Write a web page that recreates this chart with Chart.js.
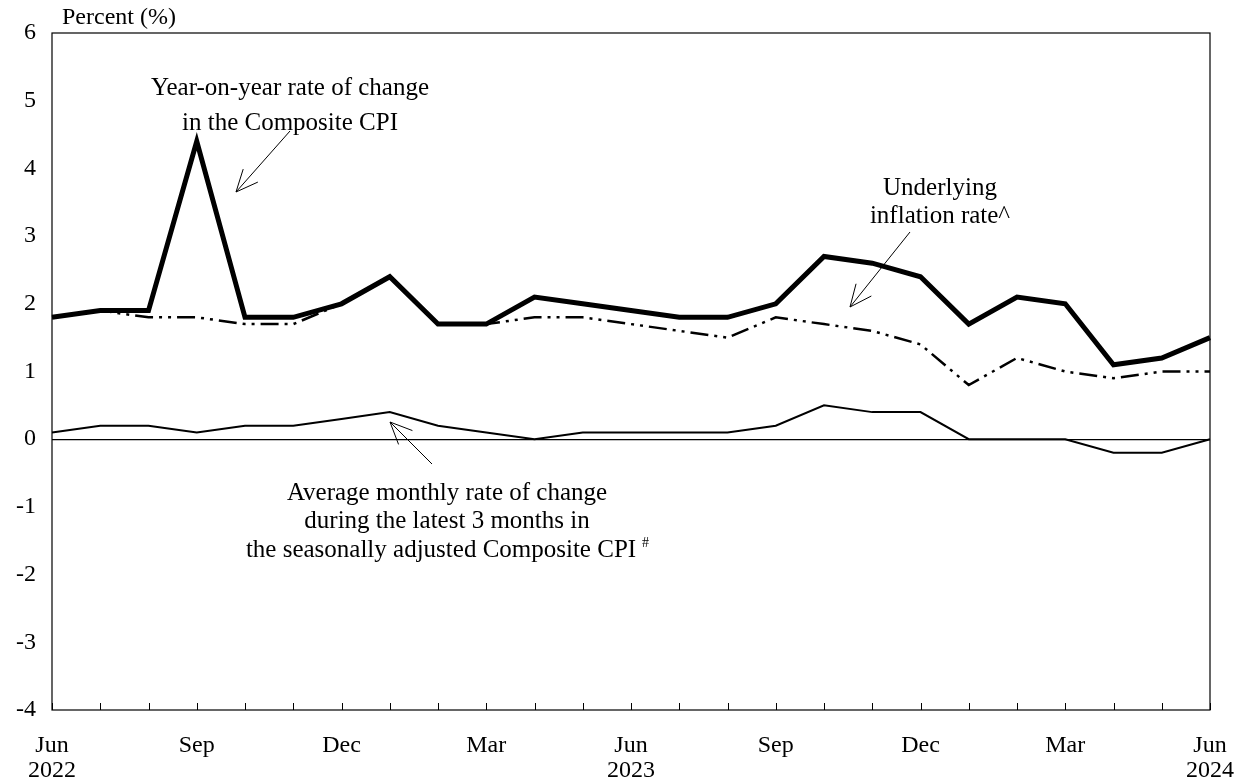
<!DOCTYPE html>
<html>
<head>
<meta charset="utf-8">
<script src="https://cdn.jsdelivr.net/npm/chart.js@4/dist/chart.umd.min.js"></script>
<style>
  html, body { margin: 0; padding: 0; background: #fff; }
  #wrap { width: 1245px; height: 782px; }
</style>
</head>
<body>
<div id="wrap"><canvas id="cpiChart"></canvas></div>
<script>
// Months Jun 2022 .. Jun 2024
const months = ['Jun 2022', 'Jul', 'Aug', 'Sep', 'Oct', 'Nov', 'Dec', 'Jan 2023', 'Feb', 'Mar', 'Apr', 'May',
    'Jun 2023', 'Jul', 'Aug', 'Sep', 'Oct', 'Nov', 'Dec', 'Jan 2024', 'Feb', 'Mar', 'Apr', 'May', 'Jun 2024'];

// Axis labels shown under the x axis (blank = tick mark only)
const xTickLabels = [['Jun', '2022'], '', '', 'Sep', '', '', 'Dec', '', '', 'Mar', '', '',
    ['Jun', '2023'], '', '', 'Sep', '', '', 'Dec', '', '', 'Mar', '', '', ['Jun', '2024']];

const yoyComposite = [1.8, 1.9, 1.9, 4.4, 1.8, 1.8, 2.0, 2.4, 1.7, 1.7, 2.1, 2.0,
    1.9, 1.8, 1.8, 2.0, 2.7, 2.6, 2.4, 1.7, 2.1, 2.0, 1.1, 1.2, 1.5];
const underlying = [1.8, 1.9, 1.8, 1.8, 1.7, 1.7, 2.0, 2.4, 1.7, 1.7, 1.8, 1.8,
    1.7, 1.6, 1.5, 1.8, 1.7, 1.6, 1.4, 0.8, 1.2, 1.0, 0.9, 1.0, 1.0];
const monthlyAvg3m = [0.1, 0.2, 0.2, 0.1, 0.2, 0.2, 0.3, 0.4, 0.2, 0.1, 0.0, 0.1,
    0.1, 0.1, 0.1, 0.2, 0.5, 0.4, 0.4, 0.0, 0.0, 0.0, -0.2, -0.2, 0.0];

const FONT = '"Liberation Serif", "Times New Roman", serif';

function arrow(ctx, x1, y1, x2, y2) {
    // line from (x1,y1) to head at (x2,y2)
    const ang = Math.atan2(y2 - y1, x2 - x1);
    const len = 24, spread = 0.42;
    ctx.beginPath();
    ctx.moveTo(x1, y1);
    ctx.lineTo(x2, y2);
    ctx.moveTo(x2 - len * Math.cos(ang - spread), y2 - len * Math.sin(ang - spread));
    ctx.lineTo(x2, y2);
    ctx.lineTo(x2 - len * Math.cos(ang + spread), y2 - len * Math.sin(ang + spread));
    ctx.stroke();
}

const decorations = {
    id: 'decorations',
    afterDraw(chart) {
        const ctx = chart.ctx;
        const area = chart.chartArea;
        const x = chart.scales.x;
        ctx.save();
        ctx.strokeStyle = '#000';
        ctx.fillStyle = '#000';

        // frame
        ctx.lineWidth = 1.2;
        ctx.strokeRect(area.left, area.top, area.right - area.left, area.bottom - area.top);

        // inward tick marks on x axis
        ctx.lineWidth = 1;
        ctx.beginPath();
        for (let i = 0; i < months.length; i++) {
            const px = Math.round(x.getPixelForValue(i)) + 0.5;
            ctx.moveTo(px, area.bottom);
            ctx.lineTo(px, area.bottom - 7);
        }
        ctx.stroke();

        // unit label
        ctx.font = '24px ' + FONT;
        ctx.textAlign = 'left';
        ctx.textBaseline = 'middle';
        ctx.fillText('Percent (%)', 62, 18);

        // annotations
        ctx.font = '25px ' + FONT;
        ctx.textAlign = 'center';
        ctx.fillText('Year-on-year rate of change', 290, 88);
        ctx.fillText('in the Composite CPI', 290, 123);

        ctx.fillText('Underlying', 940, 188);
        ctx.fillText('inflation rate^', 940, 216);

        ctx.fillText('Average monthly rate of change', 447, 493);
        ctx.fillText('during the latest 3 months in', 447, 521);
        ctx.fillText('the seasonally adjusted Composite CPI', 441, 550);
        const w = ctx.measureText('the seasonally adjusted Composite CPI').width;
        ctx.font = '14px ' + FONT;
        ctx.textAlign = 'left';
        ctx.fillText('#', 441 + w / 2 + 6, 543);

        ctx.lineWidth = 1;
        arrow(ctx, 290, 131, 236, 192);
        arrow(ctx, 910, 232, 850, 307);
        arrow(ctx, 432, 464, 390, 422);

        ctx.restore();
    }
};

new Chart(document.getElementById('cpiChart'), {
    type: 'line',
    data: {
        labels: months,
        datasets: [{
            label: 'Underlying inflation rate',
            data: underlying,
            borderColor: '#000',
            borderWidth: 2.5,
            borderDash: [18, 6, 3, 6, 3, 6],
            order: 2
        }, {
            label: 'Year-on-year rate of change in the Composite CPI',
            data: yoyComposite,
            borderColor: '#000',
            borderWidth: 5,
            order: 1
        }, {
            label: 'Average monthly rate of change (3 months, seasonally adjusted)',
            data: monthlyAvg3m,
            borderColor: '#000',
            borderWidth: 2,
            order: 3
        }]
    },
    options: {
        responsive: true,
        maintainAspectRatio: false,
        animation: false,
        layout: { padding: { top: 33, right: 35, left: 0, bottom: 0 } },
        elements: {
            point: { radius: 0 },
            line: { tension: 0, borderJoinStyle: 'miter', fill: false }
        },
        plugins: {
            legend: { display: false },
            tooltip: { enabled: false }
        },
        scales: {
            x: {
                offset: false,
                grid: { display: false, drawTicks: false },
                border: { display: false },
                afterFit(scale) {
                    scale.height = 72;
                    scale.paddingLeft = 0;
                    scale.paddingRight = 0;
                },
                ticks: {
                    autoSkip: false,
                    maxRotation: 0,
                    padding: 23,
                    color: '#000',
                    font: { family: FONT, size: 24, lineHeight: 1.05 },
                    callback: (val, i) => xTickLabels[i]
                }
            },
            y: {
                min: -4,
                max: 6,
                afterFit(scale) { scale.width = 52; },
                grid: {
                    drawTicks: false,
                    color: ctx => ctx.tick && ctx.tick.value === 0 ? '#000' : 'rgba(0,0,0,0)',
                    lineWidth: 1.2
                },
                border: { display: false },
                ticks: {
                    stepSize: 1,
                    padding: 16,
                    color: '#000',
                    font: { family: FONT, size: 24 }
                }
            }
        }
    },
    plugins: [decorations]
});
</script>
</body>
</html>
